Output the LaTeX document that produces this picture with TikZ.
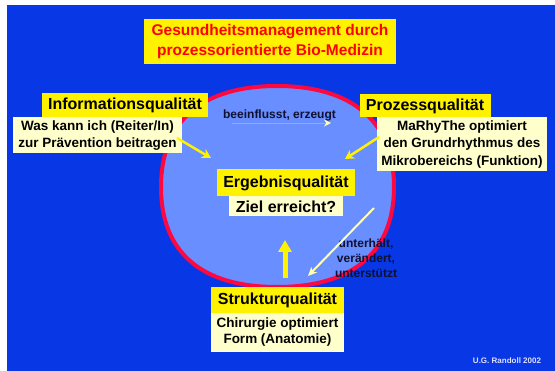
\documentclass[tikz,border=0pt]{standalone}
\usepackage{fontspec}
\setmainfont{Liberation Sans}
\usetikzlibrary{arrows.meta}
\definecolor{folie}{RGB}{8,56,230}
\definecolor{oval}{RGB}{104,142,255}
\definecolor{rand}{RGB}{255,8,64}
\definecolor{creme}{RGB}{255,255,204}
\definecolor{blass}{RGB}{255,255,176}
\definecolor{tinte}{RGB}{16,16,48}
\begin{document}
\begin{tikzpicture}[x=1pt,y=-1pt,>=Stealth]
\tikzset{kopf/.style={fill=yellow,inner sep=0pt,text=black,font=\bfseries\fontsize{16}{18}\selectfont},
  koerper/.style={fill=creme,inner sep=0pt,align=center,text=black,font=\bfseries\fontsize{13.5}{17.5}\selectfont},
  pfeil/.style={yellow,line width=2.5pt,-{Stealth[length=9pt,width=10pt]}}}
\useasboundingbox (0,0) rectangle (555,371);
\fill[white] (0,0) rectangle (555,371);
\fill[folie] (7,5) rectangle (555,371);
% Oval in der Mitte
\filldraw[fill=oval,draw=rand,line width=4pt] (161,187) .. controls (161,122) and (201,86) .. (277,86)
  .. controls (353,86) and (394,122) .. (394,187) .. controls (394,252) and (353,287) .. (277,287)
  .. controls (201,287) and (161,252) .. (161,187) -- cycle;
% Titel
\node[fill=yellow,minimum width=252pt,minimum height=45pt,inner sep=0pt,align=center,text=red,
  font=\bfseries\fontsize{15.5}{20}\selectfont] (titel) at (270,41.5)
  {Gesundheitsmanagement durch\\prozessorientierte Bio-Medizin};
% die vier Qualitaeten
\node[kopf,minimum width=166pt,minimum height=24pt] (info) at (125,105) {Informationsqualität};
\node[koerper,minimum width=169pt,minimum height=36pt] (infotext) at (97.5,135.5)
  {Was kann ich (Reiter/In)\\zur Prävention beitragen};
\node[kopf,minimum width=131pt,minimum height=23pt] (prozess) at (425,106) {Prozessqualität};
\node[koerper,minimum width=170pt,minimum height=54pt] (prozesstext) at (462,144.5)
  {MaRhyThe optimiert\\den Grundrhythmus des\\Mikrobereichs (Funktion)};
\node[kopf,minimum width=138pt,minimum height=27pt] (ergebnis) at (286,183) {Ergebnisqualität};
\node[koerper,minimum width=114pt,minimum height=20pt,font=\bfseries\fontsize{16}{18}\selectfont]
  (ziel) at (286,206.5) {Ziel erreicht?};
\node[kopf,minimum width=133pt,minimum height=26pt] (struktur) at (277.5,300) {Strukturqualität};
\node[koerper,minimum width=133pt,minimum height=39pt,font=\bfseries\fontsize{13.5}{16}\selectfont]
  (strukturtext) at (277.5,332.5) {Chirurgie optimiert\\Form (Anatomie)};
% Beschriftungen
\node[text=tinte,font=\bfseries\fontsize{12}{14}\selectfont] (wirkt) at (279.5,115) {beeinflusst, erzeugt};
\node[text=tinte,align=center,font=\bfseries\fontsize{12}{15}\selectfont] (haelt) at (366,258.5)
  {unterhält,\\verändert,\\unterstützt};
\node[text=blue!12,font=\bfseries\fontsize{8}{10}\selectfont] (autor) at (507,361) {U.G. Randoll 2002};
% Pfeile
\coordinate (a1) at (177,138); \coordinate (a2) at (211,158);
\coordinate (b1) at (379,137); \coordinate (b2) at (345,159);
\coordinate (c1) at (285,278); \coordinate (c2) at (285,240);
\coordinate (d1) at (374,208); \coordinate (d2) at (308,276);
\coordinate (e1) at (232,123); \coordinate (e2) at (331,123);
\draw[pfeil] (a1) -- (a2);
\draw[pfeil] (b1) -- (b2);
\draw[yellow,line width=5pt,-{Triangle[length=12pt,width=13pt]}] (c1) -- (c2);
\draw[blass,line width=2pt,-{Stealth[length=9pt,width=8pt]}] (d1) -- (d2);
\draw[blue!25!oval!60!white,line width=0.8pt,-{Stealth[length=7pt,width=7pt,color=blass]}] (e1) -- (e2);
\end{tikzpicture}
\end{document}
